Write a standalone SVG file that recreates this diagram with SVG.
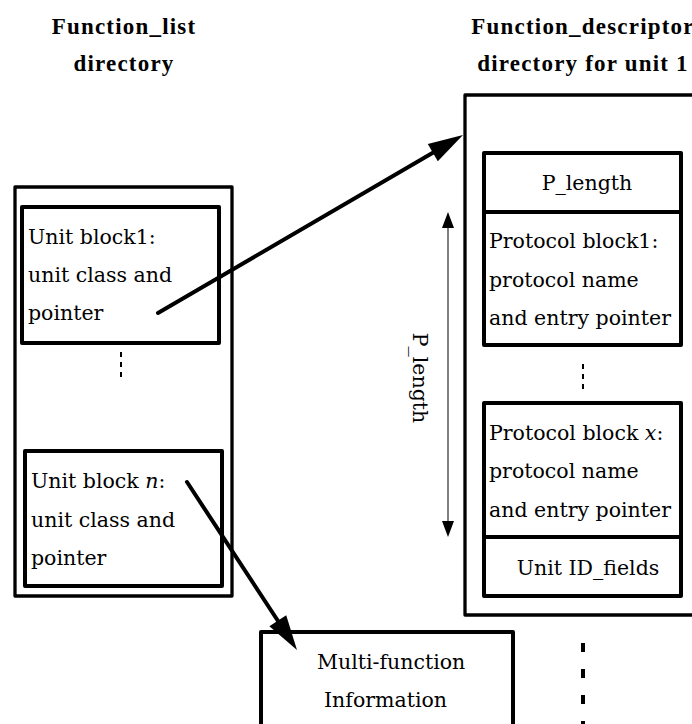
<svg xmlns="http://www.w3.org/2000/svg" width="692" height="724" viewBox="0 0 692 724">
<style>
.hdr{font-family:"Liberation Serif","Times New Roman",serif;font-weight:bold;font-size:23px;letter-spacing:1.2px;fill:#000}
.t{font-family:"DejaVu Serif","Liberation Serif",serif;font-size:20.5px;fill:#000}
.box{fill:none;stroke:#000;stroke-width:4;stroke-linejoin:round}
.outer{fill:none;stroke:#000;stroke-width:3.3;stroke-linejoin:round}
.dots{stroke:#000;stroke-width:2;stroke-dasharray:5 5;fill:none}
.conn{stroke:#000;stroke-width:4;stroke-linecap:round;fill:none}
</style>
<rect width="692" height="724" fill="#fff"/>
<g id="header-left">
<text class="hdr" x="124" y="34" text-anchor="middle">Function_list</text>
<text class="hdr" x="124" y="71" text-anchor="middle">directory</text>
</g>
<g id="header-right">
<text class="hdr" x="583" y="34" text-anchor="middle">Function_descriptor</text>
<text class="hdr" x="583" y="71" text-anchor="middle">directory for unit 1</text>
</g>
<g id="function-list">
<rect class="outer" x="15" y="187" width="217" height="409"/>
<line class="dots" x1="121" y1="352" x2="121" y2="381"/>
</g>
<g id="unit-block-1">
<rect class="box" x="22" y="207" width="197" height="136"/>
<text class="t" x="28" y="244">Unit block1:</text>
<text class="t" x="28" y="282">unit class and</text>
<text class="t" x="28" y="320">pointer</text>
</g>
<g id="unit-block-n">
<rect class="box" x="25" y="451" width="197" height="135"/>
<text class="t" x="31" y="488">Unit block <tspan font-style="italic">n</tspan>:</text>
<text class="t" x="31" y="527">unit class and</text>
<text class="t" x="31" y="565">pointer</text>
</g>
<g id="function-descriptor">
<rect class="outer" x="465" y="95" width="260" height="520"/>
<line class="dots" x1="583" y1="364" x2="583" y2="394"/>
</g>
<g id="p-length-box">
<rect class="box" x="484" y="153" width="197" height="59"/>
<text class="t" x="587" y="190" text-anchor="middle">P_length</text>
</g>
<g id="protocol-block-1">
<rect class="box" x="484" y="212" width="197" height="133"/>
<text class="t" x="489" y="248">Protocol block1:</text>
<text class="t" x="489" y="287">protocol name</text>
<text class="t" x="489" y="325">and entry pointer</text>
</g>
<g id="protocol-block-x">
<rect class="box" x="484" y="403" width="197" height="134"/>
<text class="t" x="489" y="440">Protocol block <tspan font-style="italic">x</tspan>:</text>
<text class="t" x="489" y="478">protocol name</text>
<text class="t" x="489" y="517">and entry pointer</text>
</g>
<g id="unit-id-fields">
<rect class="box" x="484" y="537" width="197" height="59"/>
<text class="t" x="588" y="575" text-anchor="middle">Unit ID_fields</text>
</g>
<g id="multi-function">
<rect class="box" x="261" y="632" width="252" height="130"/>
<text class="t" x="317" y="669">Multi-function</text>
<text class="t" x="324" y="707">Information</text>
</g>
<g id="p-length-dimension">
<line x1="448" y1="226" x2="448" y2="523" stroke="#555" stroke-width="1.5"/>
<polygon points="448,212 442,228 454,228" fill="#000"/>
<polygon points="448,537 442,521 454,521" fill="#000"/>
<text class="t" x="413" y="378" text-anchor="middle" transform="rotate(90 413 378)">P_length</text>
</g>
<g id="connectors">
<line class="conn" x1="158" y1="313" x2="435" y2="151.5"/>
<polygon points="463,135 437.8,161.2 427.8,144" fill="#000"/>
<line class="conn" x1="187" y1="482" x2="279" y2="622.5"/>
<polygon points="297,650 269.4,626.2 286.2,615.2" fill="#000"/>
<line x1="583" y1="643" x2="583" y2="724" stroke="#000" stroke-width="4" stroke-dasharray="9 17"/>
</g>
</svg>
